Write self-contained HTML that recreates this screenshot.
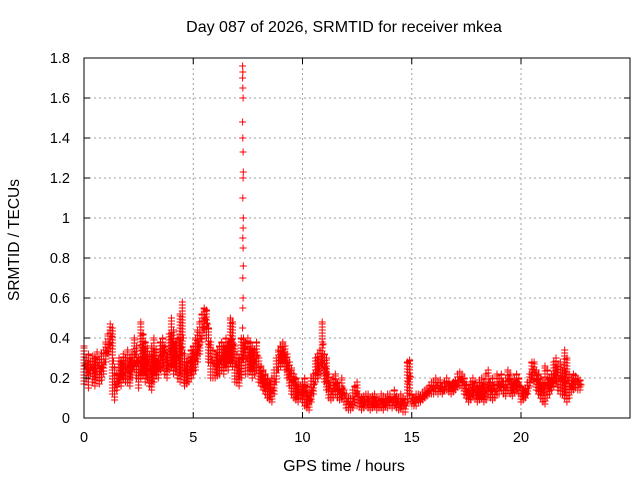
<!DOCTYPE html>
<html><head><meta charset="utf-8"><style>
body{margin:0;background:#fff}
svg{display:block;font-family:"Liberation Sans",sans-serif}
</style></head><body>
<svg id="chart" width="640" height="480" viewBox="0 0 640 480">
<text x="344" y="32" font-size="16" text-anchor="middle">Day 087 of 2026, SRMTID for receiver mkea</text>
<text x="344" y="471" font-size="16" text-anchor="middle">GPS time / hours</text>
<text transform="translate(19,240) rotate(-90)" font-size="15.5" text-anchor="middle">SRMTID / TECUs</text>
<g id="grid"></g><g id="marks"></g><g id="axes"></g>
</svg>
<script>
const xTicks=[0,5,10,15,20];
const yTicks=[0,0.2,0.4,0.6,0.8,1,1.2,1.4,1.6,1.8];
const yTickLabels=["0","0.2","0.4","0.6","0.8","1","1.2","1.4","1.6","1.8"];
const bandHi=[36,30,32,28,31,30,33,29,32,34,38,42,47,45,25,22,30,28,32,30,34,30,33,40,36,30,48,42,38,35,32,36,40,34,30,38,40,36,33,42,50,44,38,40,52,58,32,28,30,34,36,40,44,48,52,55,54,45,38,34,32,34,36,38,36,40,38,50,48,36,32,30,40,40,38,40,38,36,34,38,30,26,24,22,20,18,20,24,30,34,36,38,36,32,28,25,22,20,18,16,18,20,16,14,20,22,30,32,34,48,32,30,22,18,20,22,18,16,20,14,12,10,10,14,16,18,12,10,11,12,12,10,11,12,10,9,12,11,10,12,12,10,14,11,10,12,10,9,28,29,12,10,12,12,11,13,14,15,16,18,18,20,18,19,16,18,20,18,17,18,19,22,23,22,20,17,15,18,20,18,16,19,20,18,22,24,18,20,17,22,20,22,18,20,24,22,18,20,22,20,16,14,15,18,22,28,28,24,22,20,18,26,24,20,22,28,30,26,28,24,34,30,22,20,22,21,20,19];
const bandLo=[17,20,15,22,18,16,20,17,19,22,28,32,35,12,9,14,18,16,20,18,18,16,20,24,20,15,20,22,18,20,16,14,18,22,20,24,26,22,20,24,26,22,24,20,18,22,16,17,18,20,22,24,28,32,38,44,40,28,20,20,20,21,22,24,22,26,24,28,26,18,18,16,20,30,22,22,24,20,22,24,18,16,14,12,10,9,8,12,18,24,26,28,24,20,16,12,10,9,8,10,8,6,5,4,8,12,18,20,22,26,18,14,10,9,10,12,10,9,10,8,5,4,4,5,8,6,6,4,5,6,5,4,5,6,4,5,5,4,6,5,6,5,6,5,4,5,3,3,8,12,7,6,6,8,8,9,10,11,12,12,12,13,12,13,12,14,14,13,12,13,14,16,16,15,12,10,8,9,11,10,8,9,10,8,9,12,10,9,10,12,12,14,12,11,14,12,11,13,14,12,8,9,10,12,16,20,18,14,12,10,8,7,10,12,14,16,18,14,12,12,10,8,10,13,14,15,14,14];
const spikeT=[7.26,7.27,7.28,7.27,7.29,7.28,7.27,7.28,7.29,7.27,7.28,7.29,7.28,7.27,7.26,7.28,7.27,7.26,7.27,7.26];
const spikeV=[0.45,0.55,0.6,0.7,0.76,0.85,0.9,0.95,1.0,1.1,1.2,1.23,1.33,1.4,1.48,1.6,1.65,1.7,1.73,1.76];
const x0=84,x1=630,yTop=58,yBot=418;
function X(t){return x0+t*(521-84)/20;}
function Y(v){return yBot-v*(yBot-yTop)/1.8;}
const NS="http://www.w3.org/2000/svg";
function el(tag,attrs,parent){const e=document.createElementNS(NS,tag);for(const k in attrs)e.setAttribute(k,attrs[k]);parent.appendChild(e);return e;}
const grid=document.getElementById('grid'),marks=document.getElementById('marks'),axes=document.getElementById('axes');
yTicks.forEach((v,i)=>{
 if(i>0&&i<yTicks.length-1){const g=el('line',{x1:x0,x2:x1,y1:Y(v),y2:Y(v),stroke:'#a0a0a0','stroke-dasharray':'2,3'},grid);
 
 }
 const tk=el('path',{d:`M${x0} ${Y(v)}h6M${x1} ${Y(v)}h-6`,stroke:'#000'},axes);
 
 
 const t=el('text',{x:70,y:Y(v)+5,'font-size':14.5,'text-anchor':'end'},axes);t.textContent=yTickLabels[i];
 
 
});
xTicks.forEach(v=>{
 if(v>0){const g=el('line',{x1:X(v),x2:X(v),y1:yTop,y2:yBot,stroke:'#a0a0a0','stroke-dasharray':'2,3'},grid);
 
 }
 const tk=el('path',{d:`M${X(v)} ${yBot}v-6M${X(v)} ${yTop}v6`,stroke:'#000'},axes);
 
 
 const t=el('text',{x:X(v),y:442,'font-size':14.5,'text-anchor':'middle'},axes);t.textContent=String(v);
 
 
});
const box=el('rect',{x:x0,y:yTop,width:x1-x0,height:yBot-yTop,fill:'none',stroke:'#000'},axes);


let d='';
function plus(px,py){d+=`M${(px-3.5).toFixed(1)} ${py.toFixed(1)}h7M${px.toFixed(1)} ${(py-3.5).toFixed(1)}v7`;}
bandHi.forEach((h,i)=>{
 const t=i/10,px=X(t),yh=Y(h/100),yl=Y(bandLo[i]/100);
 for(let py=yl;py>=yh;py-=3)plus(px,py);
 plus(px,yh);
 plus(X(t+0.05),(yh+yl)/2);
});
spikeT.forEach((t,i)=>plus(X(t),Y(spikeV[i])));
const p=el('path',{d:d,stroke:'#ff0000','stroke-width':1,fill:'none'},marks);


</script>
</body></html>
